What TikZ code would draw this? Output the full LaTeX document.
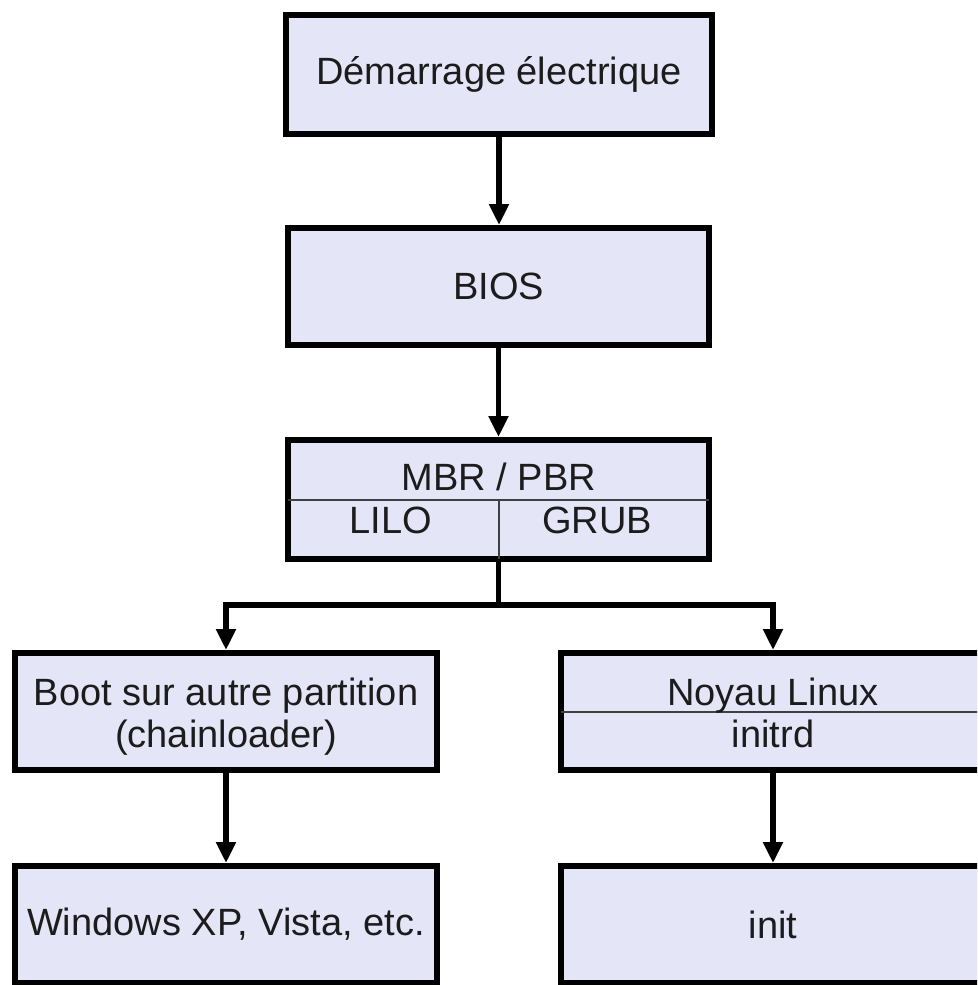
\documentclass[tikz,border=0pt]{standalone}
\usepackage{fontspec}
\setmainfont{Liberation Sans}
\usetikzlibrary{arrows.meta}
\definecolor{boxfill}{RGB}{229,229,248}
\definecolor{inktext}{RGB}{28,28,28}
\begin{document}
\begin{tikzpicture}[x=1pt,y=-1pt,
  bigbox/.style={draw=black,fill=boxfill,line width=6pt,rectangle,inner sep=0pt,
    minimum width=421pt,minimum height=117pt,text=inktext,
    font=\fontsize{38}{42}\selectfont},
  boxtext/.style={inner sep=0pt,anchor=base,text=inktext,font=\fontsize{38}{42}\selectfont},
  divider/.style={draw=black!75,line width=2pt},
  flow/.style={draw=black,line width=5.5pt,-{Triangle[width=19pt,length=21pt]}},
  trunk/.style={draw=black,line width=5.5pt}
]
\useasboundingbox (0,0) rectangle (977,985);
\clip (0,0) rectangle (977,985);
\fill[white] (0,0) rectangle (977,985);

% boxes
\node[bigbox,minimum width=426pt,minimum height=119pt] (dem) at (499,74.5) {Démarrage électrique};
\node[bigbox] (bios) at (498.5,286.5) {BIOS};
\node[bigbox,minimum height=119pt] (mbr) at (498.5,499.5) {};
\node[bigbox,minimum width=422pt] (boot) at (226,711.5) {};
\node[bigbox,minimum width=424pt] (noyau) at (773,711.5) {};
\node[bigbox,minimum width=422pt] (win) at (226,924.5) {Windows XP, Vista, etc.};
\node[bigbox,minimum width=424pt] (init) at (773,924.5) {init};

% inner dividers
\draw[divider] ([xshift=3pt]mbr.west) -- ([xshift=-3pt]mbr.east);
\draw[divider] (mbr.center) -- ([yshift=3pt]mbr.south);
\draw[divider] ([xshift=3pt]noyau.west) -- ([xshift=-3pt]noyau.east);

% inner texts
\node[boxtext] (mbrtxt) at (499,490) {MBR / PBR};
\node[boxtext] (lilo) at (391,533) {LILO};
\node[boxtext] (grub) at (597,533) {GRUB};
\node[boxtext] (boot1) at (226,705) {Boot sur autre partition};
\node[boxtext] (boot2) at (226,747) {(chainloader)};
\node[boxtext] (noy1) at (773,705) {Noyau Linux};
\node[boxtext] (noy2) at (773,747) {initrd};

% connectors
\coordinate (split) at (498.5,605);
\draw[flow] (dem.south) -- (dem.south |- bios.north);
\draw[flow] (bios.south) -- (mbr.north);
\draw[trunk] (mbr.south) -- (split);
\draw[flow] (split) -| (boot.north);
\draw[flow] (split) -| (noyau.north);
\draw[flow] (boot.south) -- (win.north);
\draw[flow] (noyau.south) -- (init.north);
\end{tikzpicture}
\end{document}
